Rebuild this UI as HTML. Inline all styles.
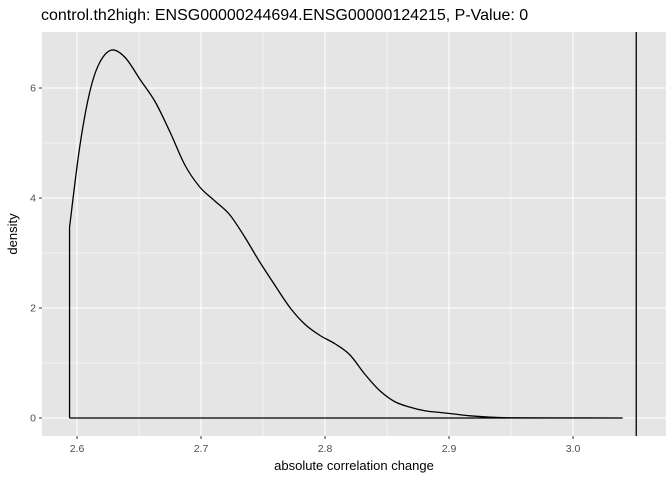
<!DOCTYPE html>
<html><head><meta charset="utf-8"><style>
body{margin:0;background:#fff;font-family:"Liberation Sans",sans-serif;}
svg text{font-family:"Liberation Sans",sans-serif;}
</style></head><body>
<svg id="chart" width="672" height="480">
<text x="41" y="20" font-size="16" fill="#000">control.th2high: ENSG00000244694.ENSG00000124215, P-Value: 0</text>
<rect x="42" y="32" width="624" height="404" fill="#e5e5e5"/>
<g id="grid"></g>
<g id="axes"></g>
<path id="density" fill="none" stroke="#000" stroke-width="1.3"/>
<line id="vline" stroke="#000" stroke-width="1.3"/>
<text x="354" y="470" font-size="13" text-anchor="middle">absolute correlation change</text>
<text x="0" y="0" font-size="13" text-anchor="middle" transform="translate(17,234) rotate(-90)">density</text>
</svg>
<script>
const xs=[2.594,2.602,2.610,2.618,2.628,2.639,2.651,2.663,2.675,2.687,2.699,2.711,2.723,2.735,2.747,2.760,2.772,2.784,2.796,2.808,2.820,2.832,2.844,2.856,2.868,2.881,2.893,2.905,2.917,2.933,2.949,2.981,3.040];
const ys=[3.47,4.9,5.9,6.45,6.69,6.55,6.15,5.75,5.2,4.6,4.2,3.95,3.7,3.3,2.85,2.4,2.0,1.7,1.5,1.35,1.15,0.8,0.5,0.3,0.2,0.13,0.1,0.07,0.04,0.015,0.005,0.002,0];
const xTicks=[2.6,2.7,2.8,2.9,3.0];
const xTickLabels=["2.6","2.7","2.8","2.9","3.0"];
const yTicks=[0,2,4,6];
const observed=[3.051];
const X=v=>77+(v-2.6)*1240;
const Y=v=>418-v*55;
const ns="http://www.w3.org/2000/svg";
const grid=document.getElementById('grid'),axes=document.getElementById('axes');
function mk(tag,attrs,parent){const e=document.createElementNS(ns,tag);for(const k in attrs)e.setAttribute(k,attrs[k]);parent.appendChild(e);return e;}
for(let i=0;i<xTicks.length-1;i++){const l=mk('line',{x1:X((xTicks[i]+xTicks[i+1])/2),x2:X((xTicks[i]+xTicks[i+1])/2),y1:32,y2:436,stroke:'#fff','stroke-width':0.5},grid);

}
for(let i=0;i<yTicks.length-1;i++){const l=mk('line',{y1:Y((yTicks[i]+yTicks[i+1])/2),y2:Y((yTicks[i]+yTicks[i+1])/2),x1:42,x2:666,stroke:'#fff','stroke-width':0.5},grid);

}
xTicks.forEach((t,i)=>{const l=mk('line',{x1:X(t),x2:X(t),y1:32,y2:436,stroke:'#fff','stroke-width':1.1},grid);


mk('line',{x1:X(t),x2:X(t),y1:436,y2:439,stroke:'#333','stroke-width':1},axes);
const tx=mk('text',{x:X(t),y:452,'font-size':10.5,'text-anchor':'middle',fill:'#4d4d4d'},axes);tx.textContent=xTickLabels[i];

});
yTicks.forEach(t=>{const l=mk('line',{y1:Y(t),y2:Y(t),x1:42,x2:666,stroke:'#fff','stroke-width':1.1},grid);


mk('line',{x1:39,x2:42,y1:Y(t),y2:Y(t),stroke:'#333','stroke-width':1},axes);
const tx=mk('text',{x:36,y:Y(t)+3.5,'font-size':10.5,'text-anchor':'end',fill:'#4d4d4d'},axes);tx.textContent=String(t);

});
const P=xs.map((x,i)=>[X(x),Y(ys[i])]);
let d='M'+P[0][0]+','+Y(0)+' L'+P[0][0]+','+P[0][1];
for(let i=0;i<P.length-1;i++){
  const p0=P[Math.max(0,i-1)],p1=P[i],p2=P[i+1],p3=P[Math.min(P.length-1,i+2)];
  const c1=[p1[0]+(p2[0]-p0[0])/6,p1[1]+(p2[1]-p0[1])/6];
  const c2=[p2[0]-(p3[0]-p1[0])/6,p2[1]-(p3[1]-p1[1])/6];
  d+=' C'+c1[0]+','+c1[1]+' '+c2[0]+','+c2[1]+' '+p2[0]+','+p2[1];
}
d+=' L'+P[0][0]+','+Y(0);
document.getElementById('density').setAttribute('d',d);
const v=document.getElementById('vline');
v.setAttribute('x1',X(observed[0]));v.setAttribute('x2',X(observed[0]));v.setAttribute('y1',32);v.setAttribute('y2',436);
</script>
</body></html>
